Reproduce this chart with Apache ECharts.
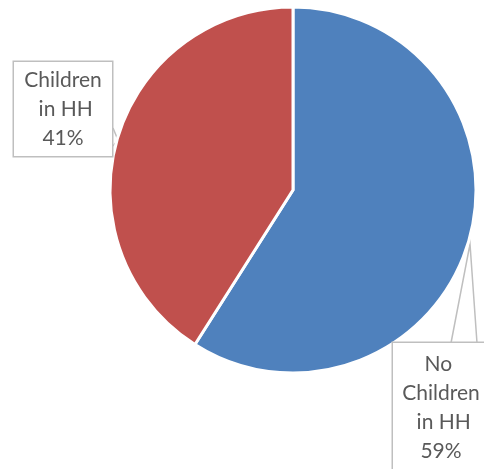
<!DOCTYPE html>
<html><head><meta charset="utf-8">
<script src="https://cdn.jsdelivr.net/npm/echarts@6/dist/echarts.min.js"></script>
<style>html,body{margin:0;padding:0;background:#fff}#c{width:484px;height:469px}</style>
</head><body><div id="c"></div>
<script>
const categories = ['No Children in HH', 'Children in HH'];
const values = [59, 41];
const colors = ['#4F81BD', '#C0504D'];

const chart = echarts.init(document.getElementById('c'), null, {renderer: 'canvas'});
const total = values.reduce((a, b) => a + b, 0);
chart.setOption({
  animation: false,
  series: [{
    type: 'pie',
    center: [293, 190],
    radius: 183,
    startAngle: 90,
    clockwise: true,
    data: categories.map((n, i) => ({
      name: n, value: values[i],
      itemStyle: {color: colors[i]},
      label: {padding: i === 0 ? [7, 8, 3, 8] : [4, 9, 3, 9]}
    })),
    itemStyle: {borderColor: '#fff', borderWidth: 3},
    label: {
      show: true,
      position: 'outside',
      formatter: p => p.name + '\n' + Math.round(p.value / total * 100) + '%',
      width: 80,
      overflow: 'break',
      align: 'center',
      fontFamily: 'Lato',
      fontSize: 21,
      lineHeight: 29,
      color: '#595959',
      backgroundColor: '#fff',
      borderColor: '#bfbfbf',
      borderWidth: 1.5
    },
    labelLine: {show: true, lineStyle: {color: '#bfbfbf', width: 1.5}},
    labelLayout: p => p.dataIndex === 0
      ? {x: 441, y: 343, align: 'center', verticalAlign: 'top',
         labelLinePoints: [[451, 343], [470, 244], [477, 343]]}
      : {x: 63, y: 62, align: 'center', verticalAlign: 'top',
         labelLinePoints: [[113, 128], [118, 140], [113, 146]]}
  }]
});
</script></body></html>
